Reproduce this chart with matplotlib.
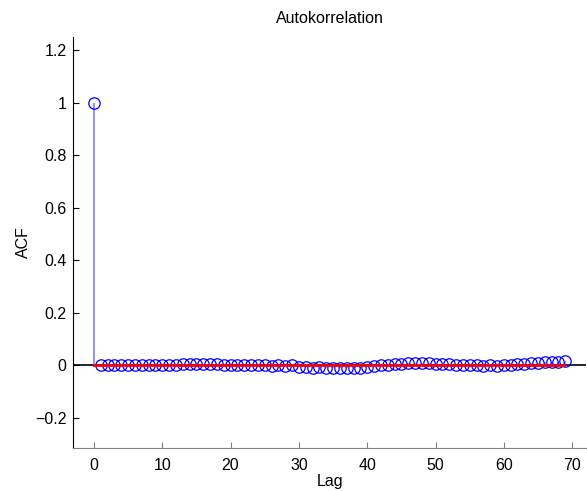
import matplotlib.pyplot as plt
import numpy as np

plt.rcParams['font.family'] = ['Liberation Sans', 'DejaVu Sans']

# Autocorrelation values for lags 0..69
lags = np.arange(0, 70)
acf = [1.0,
       0.000, 0.001, 0.001, 0.001, 0.001, 0.001, 0.001, 0.000, 0.000, 0.000,
       0.000, 0.001, 0.003, 0.004, 0.003, 0.004, 0.004, 0.003, 0.002, 0.002,
       0.001, 0.001, 0.000, -0.001, -0.001, -0.002, -0.001, -0.002, 0.001, -0.006,
       -0.008, -0.009, -0.008, -0.010, -0.010, -0.012, -0.010, -0.010, -0.009, -0.006,
       -0.003, 0.000, 0.001, 0.003, 0.005, 0.008, 0.007, 0.008, 0.008, 0.006,
       0.004, 0.003, 0.002, 0.001, 0.000, -0.001, -0.002, -0.001, -0.002, -0.001,
       0.002, 0.004, 0.006, 0.008, 0.010, 0.011, 0.012, 0.012, 0.015]
conf_upper = 0.002
conf_lower = -0.002

fig = plt.figure(figsize=(5.87, 4.91), dpi=100)
ax = fig.add_axes([0.125, 0.088, 0.873, 0.836])

# stems, markers, baseline
ax.vlines(lags, 0, acf, color='#7f7fff', lw=1.2, zorder=2)
ax.plot(lags, acf, 'o', mfc='none', mec='blue', ms=8.2, mew=0.9, zorder=3)
ax.axhline(0, color='black', lw=1.2, zorder=1)

# bounds (drawn over the markers)
ax.plot([lags[0], lags[-1]], [conf_upper, conf_upper], color='red', lw=1.3, zorder=4)
ax.plot([lags[0], lags[-1]], [conf_lower, conf_lower], color='red', lw=1.3, zorder=4)

ax.set_xlim(-3, 72)
ax.set_ylim(-0.315, 1.25)
ax.set_xticks(np.arange(0, 71, 10))
ax.set_yticks([-0.2, 0, 0.2, 0.4, 0.6, 0.8, 1, 1.2])
ax.set_yticklabels(['\u22120.2', '0', '0.2', '0.4', '0.6', '0.8', '1', '1.2'])

ax.spines['top'].set_visible(False)
ax.spines['right'].set_visible(False)
ax.spines['bottom'].set_color('#808080')
ax.spines['left'].set_color('black')
ax.tick_params(axis='x', direction='in', length=4, color='#808080', labelsize=11.5, pad=7)
ax.tick_params(axis='y', direction='in', length=4, color='black', labelsize=11.5, pad=5)

ax.set_title('Autokorrelation', fontsize=11.5, pad=10)
ax.set_xlabel('Lag', fontsize=11.5, labelpad=1)
ax.set_ylabel('ACF', fontsize=11.5, labelpad=3)

fig.savefig('out.png', dpi=100)
